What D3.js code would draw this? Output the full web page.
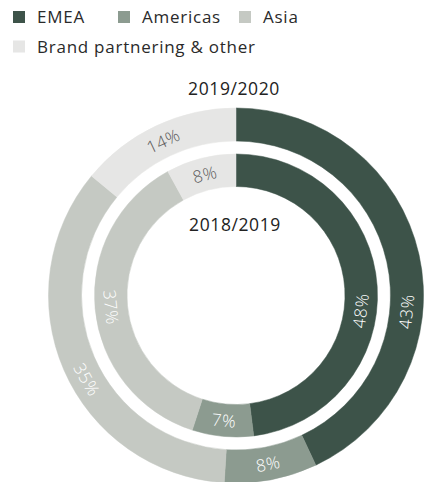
<!DOCTYPE html>
<html>
<head>
<meta charset="utf-8">
<script src="https://cdn.jsdelivr.net/npm/d3@7"></script>
<style>
  html, body { margin: 0; padding: 0; background: #fff; }
  svg { display: block; font-family: "Open Sans", sans-serif; }
</style>
</head>
<body>
<svg id="chart" width="424" height="482"></svg>
<script>
// Revenue split by region, two fiscal years
const categories = ["EMEA", "Americas", "Asia", "Brand partnering & other"];
const values2019_2020 = [43, 8, 35, 14];
const values2018_2019 = [48, 7, 37, 8];
const yearLabels = ["2019/2020", "2018/2019"];

const colors = ["#3d5349", "#8c9b90", "#c5c9c3", "#e6e6e5"];
const labelColors = ["#ffffff", "#ffffff", "#ffffff", "#5a5a5a"];

const svg = d3.select("#chart");
const cx = 236, cy = 295.5;

// ring geometry and per-ring label angle adjustments (degrees)
const rings = [
  { values: values2019_2020, inner: 154.5, outer: 187.5, nudge: [18, 0, -6, 0] },
  { values: values2018_2019, inner: 109, outer: 141.5, nudge: [10.5, 0, 0, 0] }
];

const color = d3.scaleOrdinal().domain(categories).range(colors);
const textColor = d3.scaleOrdinal().domain(categories).range(labelColors);

const pie = d3.pie().sort(null).value(d => d.value).startAngle(0).endAngle(2 * Math.PI);

const g = svg.append("g").attr("transform", `translate(${cx},${cy})`);

rings.forEach(ring => {
  const data = categories.map((c, i) => ({ cat: c, value: ring.values[i], nudge: ring.nudge[i] }));
  const arcs = pie(data);
  const arc = d3.arc().innerRadius(ring.inner).outerRadius(ring.outer);
  const rg = g.append("g");

  rg.selectAll("path")
    .data(arcs)
    .join("path")
    .attr("d", arc)
    .attr("fill", d => color(d.data.cat))
    .attr("stroke", d => color(d.data.cat))
    .attr("stroke-width", 0.5);

  const rMid = (ring.inner + ring.outer) / 2;
  rg.selectAll("text")
    .data(arcs)
    .join("text")
    .attr("transform", d => {
      const deg = ((d.startAngle + d.endAngle) / 2) * 180 / Math.PI + d.data.nudge;
      const rad = deg * Math.PI / 180;
      const x = rMid * Math.sin(rad), y = -rMid * Math.cos(rad);
      let rot = deg - 180;
      if (rot > 90) rot -= 180;
      return `translate(${x},${y}) rotate(${rot})`;
    })
    .attr("text-anchor", "middle")
    .attr("dominant-baseline", "central")
    .attr("font-size", 17)
    .attr("font-weight", 300)
    .attr("letter-spacing", 0.6)
    .attr("fill", d => textColor(d.data.cat))
    .text(d => d.data.value + "%");
});

// year captions
svg.append("text")
  .attr("x", 234).attr("y", 95)
  .attr("text-anchor", "middle")
  .attr("font-size", 17.5)
  .attr("letter-spacing", 0.6)
  .attr("fill", "#222")
  .text(yearLabels[0]);
svg.append("text")
  .attr("x", 235).attr("y", 231)
  .attr("text-anchor", "middle")
  .attr("font-size", 17.5)
  .attr("letter-spacing", 0.6)
  .attr("fill", "#222")
  .text(yearLabels[1]);

// legend: three items on the first row, the last one below
const legendSlots = [[13, 23], [118, 23], [239, 23], [13, 52.5]];
const legend = svg.append("g");
categories.forEach((c, i) => {
  const [lx, ly] = legendSlots[i];
  const item = legend.append("g").attr("transform", `translate(${lx},${ly})`);
  item.append("rect")
    .attr("x", 0).attr("y", -12)
    .attr("width", 12).attr("height", 12)
    .attr("fill", color(c));
  item.append("text")
    .attr("x", 24).attr("y", 0)
    .attr("font-size", 17)
    .attr("letter-spacing", 0.75)
    .attr("fill", "#2a2a2a")
    .text(c);
});
</script>
</body>
</html>
